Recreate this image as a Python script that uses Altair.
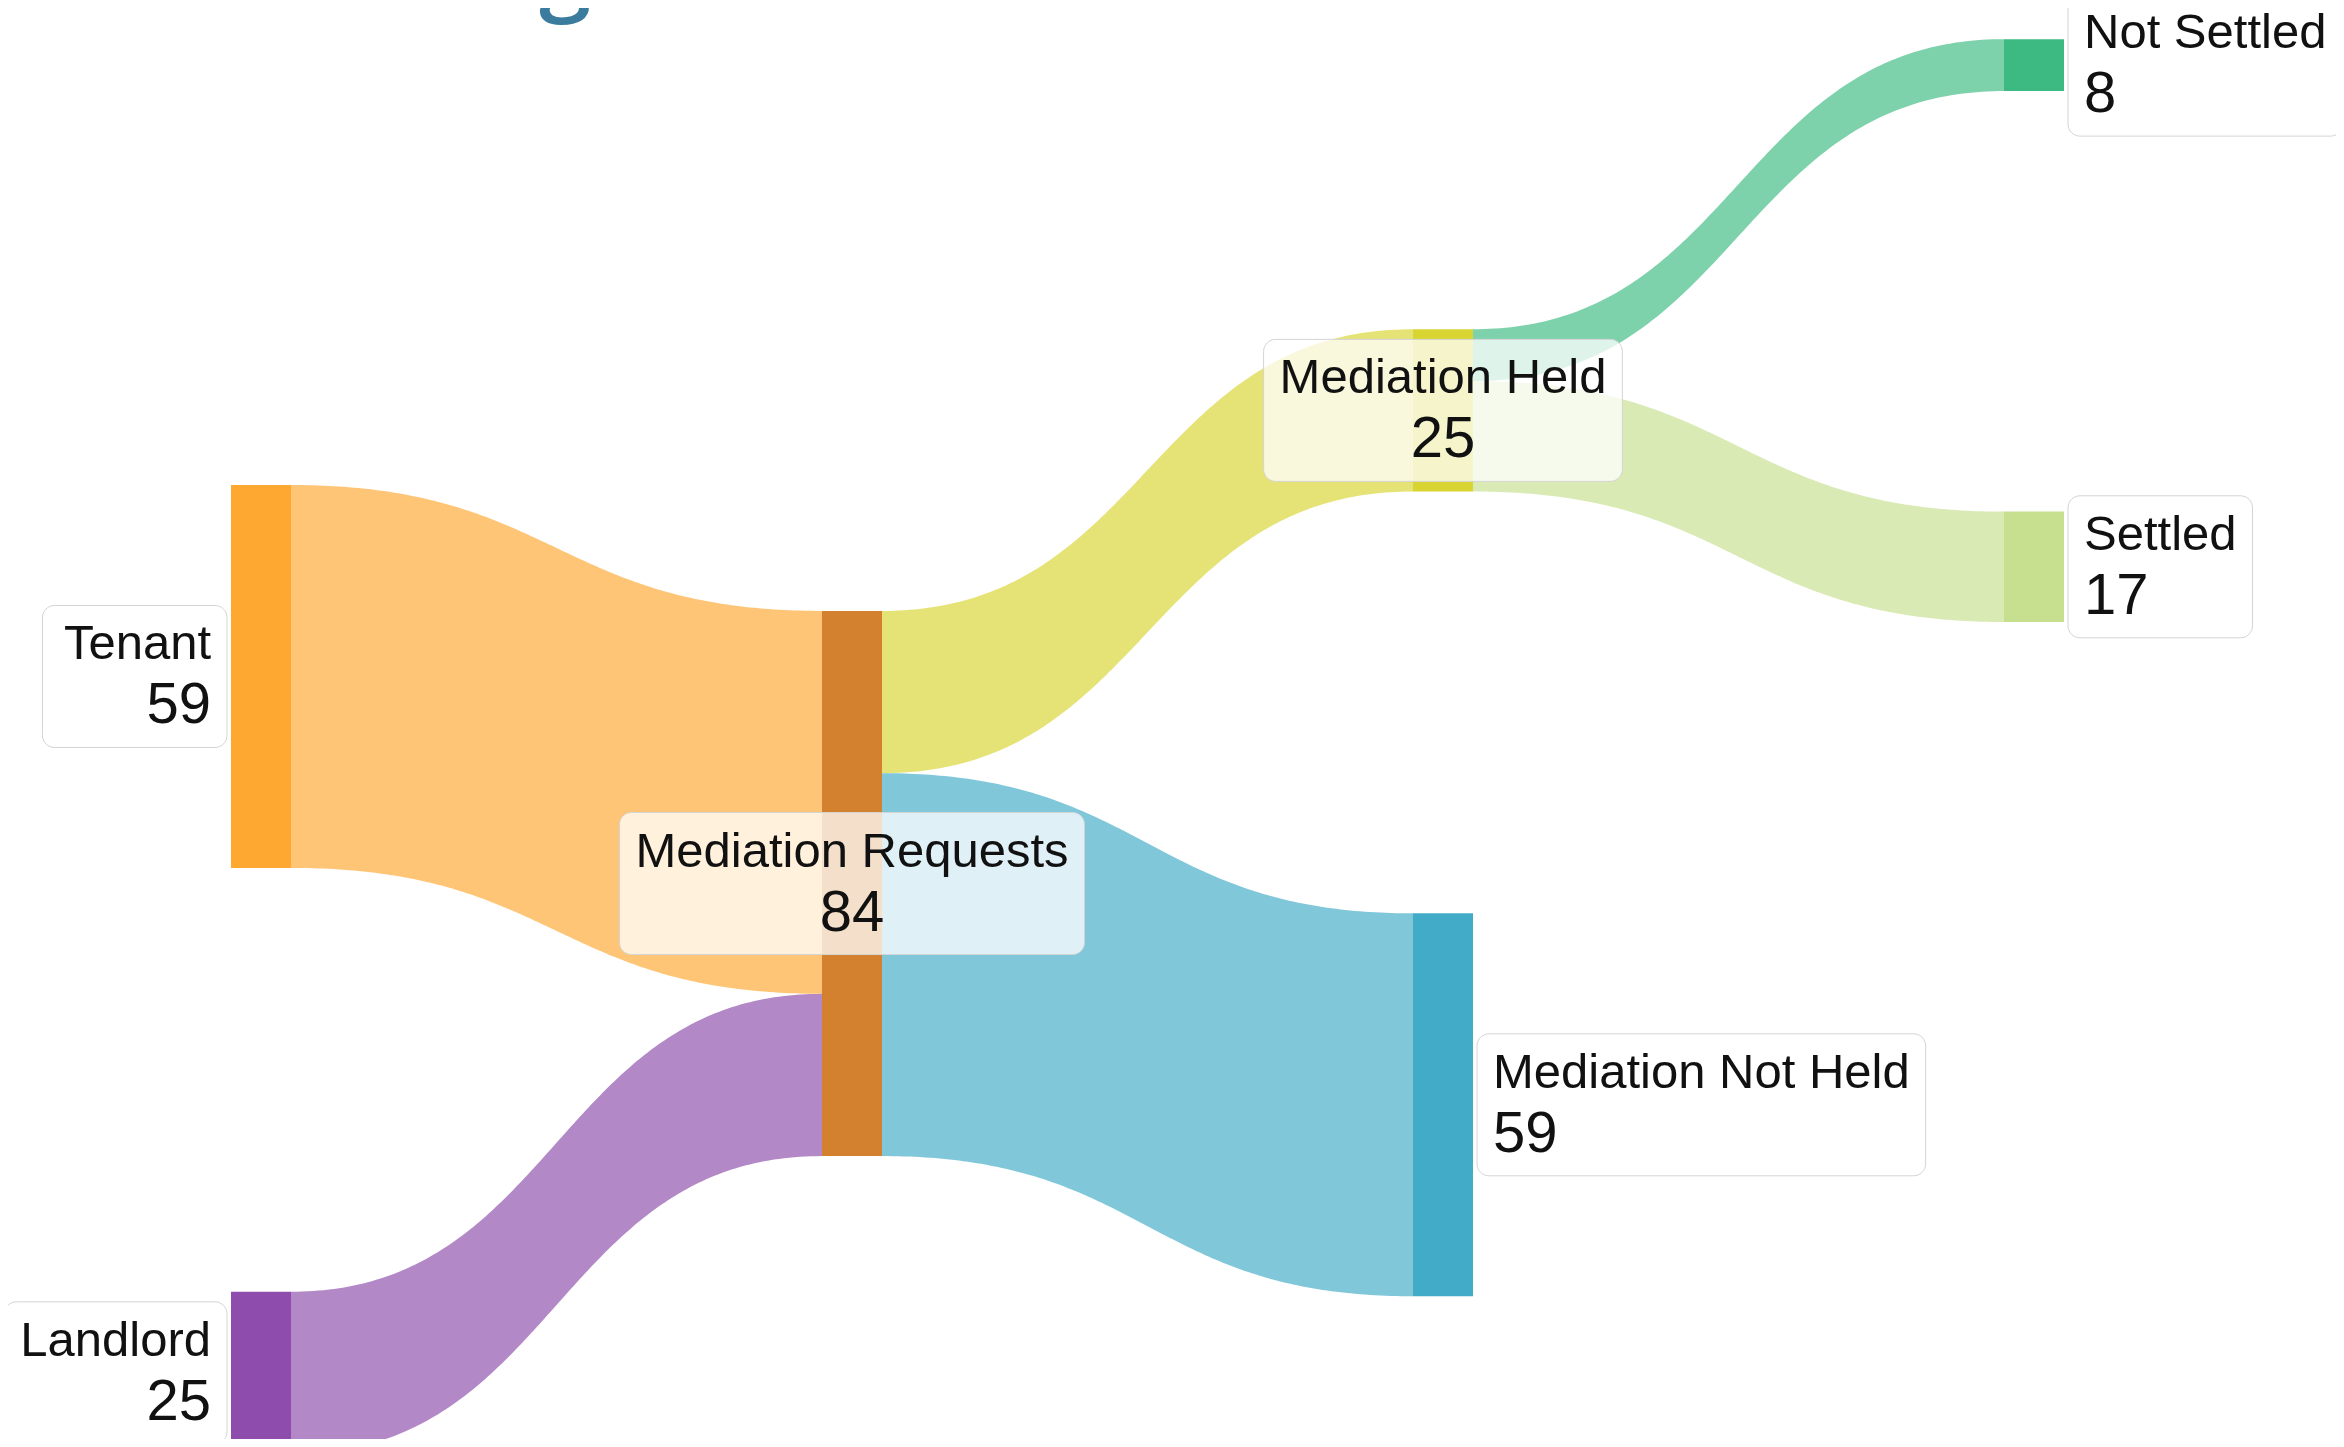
import altair as alt
import numpy as np
import pandas as pd

# ---------------- data ----------------
TITLE = "2017 Average"
NODES = ["Tenant", "Landlord", "Mediation Requests", "Mediation Held",
         "Mediation Not Held", "Not Settled", "Settled"]
LINK_SOURCE = ["Tenant", "Landlord", "Mediation Requests", "Mediation Requests",
               "Mediation Held", "Mediation Held"]
LINK_TARGET = ["Mediation Requests", "Mediation Requests", "Mediation Held",
               "Mediation Not Held", "Not Settled", "Settled"]
LINK_VALUE = [59, 25, 25, 59, 8, 17]

# ---------------- layout / style ----------------
NODE_COLUMN = [0, 0, 1, 2, 2, 3, 3]
NODE_TOP = [73.5, 197.8, 92.9, 49.5, 139.5, 4.8, 77.6]  # in value units, from top
LABEL_SIDE = ["left", "left", "center", "center", "right", "right", "right"]
TEXT_ALIGN = {"left": "right", "center": "center", "right": "left"}
NODE_COLOR = ["#fea832", "#8e4dac", "#d4812f", "#d8d432", "#41abc8", "#3dba81", "#c7e08f"]
LINK_COLOR = ["#fea832", "#8e4dac", "#d8d432", "#41abc8", "#3dba81", "#c7e08f"]
LINK_OPACITY = 0.67

W, H = 2328, 1431
PX_PER_COL = 591.0
COL0_PX = 223.0
PX_PER_UNIT = 6.49
NODE_W_PX = 60.0
FS_NAME = 49
FS_VALUE = 58
PAD = 16
GAP = 4
BOX_H = 142
DY_NAME = -17
DY_VALUE = 47
FONT = "Liberation Sans"

CHAR_W = {'M': .833, 'e': .556, 'd': .556, 'i': .222, 'a': .556, 't': .278, 'o': .556,
          'n': .556, ' ': .278, 'R': .722, 'q': .556, 'u': .556, 's': .5, 'N': .722,
          'H': .722, 'l': .222, 'S': .667, 'T': .611, 'L': .556, 'r': .333}


def text_w(s, fs):
    return sum(CHAR_W.get(c, .556) for c in s) * fs


xs = alt.Scale(domain=[-COL0_PX / PX_PER_COL, (W - COL0_PX) / PX_PER_COL], nice=False, zero=False)
ys = alt.Scale(domain=[0, H / PX_PER_UNIT], nice=False, zero=False, reverse=True)
col_w = NODE_W_PX / PX_PER_COL

# node values
node_val = {}
for n in NODES:
    vin = sum(v for t, v in zip(LINK_TARGET, LINK_VALUE) if t == n)
    vout = sum(v for s, v in zip(LINK_SOURCE, LINK_VALUE) if s == n)
    node_val[n] = max(vin, vout)

# links
out_off = {n: 0.0 for n in NODES}
in_off = {n: 0.0 for n in NODES}
ts = np.linspace(0, 1, 141)
link_rows = []
for i, (s, t, v) in enumerate(zip(LINK_SOURCE, LINK_TARGET, LINK_VALUE)):
    si, ti = NODES.index(s), NODES.index(t)
    x0 = NODE_COLUMN[si] + col_w
    x1 = NODE_COLUMN[ti]
    y0 = NODE_TOP[si] + out_off[s]
    y1 = NODE_TOP[ti] + in_off[t]
    out_off[s] += v
    in_off[t] += v
    xm = (x0 + x1) / 2
    for u in ts:
        x = (1 - u) ** 3 * x0 + 3 * (1 - u) ** 2 * u * xm + 3 * (1 - u) * u ** 2 * xm + u ** 3 * x1
        yt = y0 + (y1 - y0) * (3 * u ** 2 - 2 * u ** 3)
        link_rows.append(dict(link=i, x=x, y=yt, y2=yt + v, fill=LINK_COLOR[i]))
links_df = pd.DataFrame(link_rows)

# nodes and labels
node_rows, label_rows = [], []
for i, n in enumerate(NODES):
    c = NODE_COLUMN[i]
    top = NODE_TOP[i]
    v = node_val[n]
    node_rows.append(dict(node=n, x=c, x2=c + col_w, y=top, y2=top + v, fill=NODE_COLOR[i]))
    cy = top + v / 2
    cx = c + col_w / 2
    bw = max(text_w(n, FS_NAME), text_w(str(v), FS_VALUE)) + 2 * PAD
    side = LABEL_SIDE[i]
    if side == "left":
        bx2 = c - GAP / PX_PER_COL
        bx = bx2 - bw / PX_PER_COL
        tx = bx2 - PAD / PX_PER_COL
    elif side == "center":
        bx = cx - bw / 2 / PX_PER_COL
        bx2 = cx + bw / 2 / PX_PER_COL
        tx = cx
    else:
        bx = c + col_w + GAP / PX_PER_COL
        bx2 = bx + bw / PX_PER_COL
        tx = bx + PAD / PX_PER_COL
    label_rows.append(dict(node=n, side=side, bx=bx, bx2=bx2,
                           by=cy - BOX_H / 2 / PX_PER_UNIT, by2=cy + BOX_H / 2 / PX_PER_UNIT,
                           tx=tx, ty=cy, name=n, value=str(v)))
nodes_df = pd.DataFrame(node_rows)
labels_df = pd.DataFrame(label_rows)

area = alt.Chart(links_df).mark_area(fillOpacity=LINK_OPACITY, interpolate="linear",
                                     orient="vertical").encode(
    x=alt.X("x:Q", scale=xs, axis=None),
    y=alt.Y("y:Q", scale=ys, axis=None, stack=None),
    y2="y2:Q",
    color=alt.Color("fill:N", scale=None),
    detail="link:N",
)

nodes = alt.Chart(nodes_df).mark_rect().encode(
    x=alt.X("x:Q", scale=xs, axis=None),
    x2="x2:Q",
    y=alt.Y("y:Q", scale=ys, axis=None),
    y2="y2:Q",
    color=alt.Color("fill:N", scale=None),
)

boxes = alt.Chart(labels_df).mark_rect(cornerRadius=12, fill="white", fillOpacity=0.75,
                                       stroke="#d4d4d4", strokeWidth=1).encode(
    x=alt.X("bx:Q", scale=xs, axis=None),
    x2="bx2:Q",
    y=alt.Y("by:Q", scale=ys, axis=None),
    y2="by2:Q",
)

texts = []
for side in ["left", "center", "right"]:
    for field, fs, dy in [("name", FS_NAME, DY_NAME), ("value", FS_VALUE, DY_VALUE)]:
        texts.append(
            alt.Chart(labels_df).transform_filter(alt.datum.side == side).mark_text(
                align=TEXT_ALIGN[side], baseline="alphabetic", dy=dy, fontSize=fs,
                font=FONT, color="#111111",
            ).encode(
                x=alt.X("tx:Q", scale=xs, axis=None),
                y=alt.Y("ty:Q", scale=ys, axis=None),
                text=f"{field}:N",
            )
        )

title = alt.Chart(pd.DataFrame({"t": [TITLE]})).mark_text(
    align="left", baseline="alphabetic", fontSize=94, font="Open Sans", fontWeight=600,
    color="#3b7b9d",
).encode(x=alt.value(30), y=alt.value(-6), text="t:N")

chart = alt.layer(area, nodes, boxes, *texts, title).properties(
    width=W, height=H, autosize=alt.AutoSizeParams(type="none"), padding=0,
    background="white",
).configure_view(stroke=None)

chart.save("out.html", embed_options={"renderer": "svg", "actions": False})
